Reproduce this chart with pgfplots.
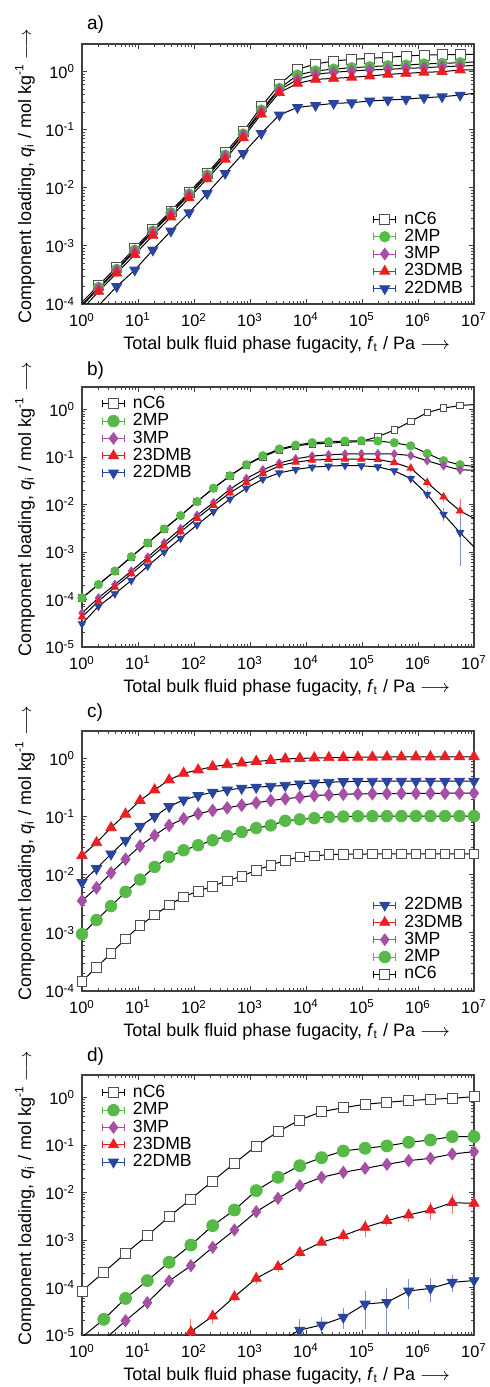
\documentclass[border=0pt]{standalone}
\usepackage{pgfplots}
\pgfplotsset{compat=1.18}
\usepackage{pgfplotstable}
\usepackage{fontspec}
\setmainfont{Liberation Sans}

\definecolor{cg}{RGB}{87,185,71}
\definecolor{cp}{RGB}{165,80,165}
\definecolor{cr}{RGB}{235,30,35}
\definecolor{cb}{RGB}{40,70,160}
\definecolor{ck}{RGB}{80,80,80}

\newcommand{\fs}{\fontsize{8.2}{9.5}\selectfont}
\newcommand{\fl}{\fontsize{9}{10}\selectfont}
\newcommand{\fg}{\fontsize{8.8}{9.5}\selectfont}

% panel a: row 0 and last row are line ends only
\pgfplotstableread{
x n m2 m3 d23 d22
1 1.08e-4 0.98e-4 0.93e-4 0.80e-4 0.47e-4
1.98 2.1e-4 1.94e-4 1.85e-4 1.65e-4 nan
4.17 4.3e-4 3.95e-4 3.8e-4 3.4e-4 2.0e-4
8.77 9.2e-4 8.5e-4 8.1e-4 7.1e-4 3.85e-4
18.4 1.95e-3 1.81e-3 1.72e-3 1.52e-3 8.5e-4
38.7 4.0e-3 3.74e-3 3.56e-3 3.15e-3 1.81e-3
81.5 8.4e-3 7.83e-3 7.5e-3 6.7e-3 3.74e-3
171.4 0.0178 0.0166 0.0158 0.0143 8.0e-3
360.4 0.040 0.0367 0.035 0.031 0.0178
757 0.093 0.0845 0.081 0.073 0.0393
1592 0.25 0.219 0.205 0.187 0.0867
3350 0.605 0.516 0.483 0.435 0.18
7047 1.10 0.877 0.738 0.63 0.243
14825 1.355 1.03 0.90 0.738 0.263
31150 1.53 1.11 0.975 0.768 0.285
65500 1.63 1.17 1.03 0.80 0.292
137700 1.70 1.22 1.07 0.842 0.313
289700 1.77 1.27 1.10 0.90 0.325
609500 1.86 1.30 1.14 0.936 0.338
1280000 1.94 1.36 1.17 0.975 0.356
2690000 1.96 1.39 1.22 1.0 0.371
5660000 1.96 1.43 1.25 1.07 0.396
10000000 2.0 1.47 1.28 1.08 0.424
}\tabA

% panel b: last row is line end only
\pgfplotstableread{
x n m2 m3 d23 d22 e3 e23 e22
1 1.08e-4 1.08e-4 5.2e-5 4.3e-5 3.06e-5 0 0 0
1.966 2.07e-4 2.07e-4 1.08e-4 9.2e-5 7.2e-5 0 0 0
3.864 3.97e-4 3.97e-4 2.07e-4 1.82e-4 1.32e-4 0 0 0
7.595 7.97e-4 7.97e-4 3.97e-4 3.48e-4 2.52e-4 0 0 0
14.93 1.55e-3 1.55e-3 7.8e-4 6.78e-4 5.06e-4 0 0 0
29.35 3.06e-3 3.06e-3 1.57e-3 1.34e-3 1.0e-3 0 0 0
57.68 5.86e-3 5.86e-3 3.11e-3 2.65e-3 1.95e-3 0 0 0
113.4 0.01157 0.01157 5.95e-3 5.14e-3 3.72e-3 0 0 0
222.8 0.0221 0.0221 0.0110 9.68e-3 7.1e-3 0 0 0
438 0.0403 0.0403 0.0211 0.0176 0.0130 0 0 0
861 0.068 0.0689 0.0354 0.0292 0.0221 0 0 0
1692 0.102 0.1067 0.054 0.0452 0.0343 0 0 0
3327 0.14 0.148 0.0747 0.0656 0.0465 0 0 0
6539 0.173 0.179 0.092 0.0784 0.0548 0 0 0
12853 0.188 0.201 0.105 0.0865 0.0615 0 0 0
25264 0.198 0.211 0.112 0.0893 0.0646 0 0 0
49659 0.204 0.218 0.116 0.0908 0.0667 0 0 0
97610 0.214 0.221 0.1175 0.0908 0.0656 0 0 0
191870 0.269 0.218 0.1175 0.0893 0.0625 0 0 0
377140 0.372 0.201 0.116 0.077 0.0514 0 0 0
741310 0.567 0.173 0.108 0.0586 0.0354 0 0.002 0.002
1457000 0.865 0.119 0.084 0.0292 0.0165 0 0.003 0.0015
2864000 1.08 0.084 0.066 0.0145 0.00625 0.002 0.0015 0.0012
5630000 1.22 0.069 0.054 0.00735 0.00256 0.005 0.0042 0.00197
10000000 1.28 0.0635 0.053 0.00514 0.00128 0 0 0
}\tabB

\pgfplotstableread{
x n m2 m3 d23 d22
1 1.47e-4 9.5e-4 3.58e-3 0.0214 7.4e-3
1.817 2.55e-4 1.67e-3 5.98e-3 0.0358 0.0129
3.300 4.48e-4 2.9e-3 0.0108 0.0648 0.0229
5.995 7.9e-4 5.1e-3 0.0186 0.111 0.0393
10.89 1.34e-3 8.3e-3 0.0314 0.1905 0.0683
19.79 2.04e-3 0.0137 0.0479 0.29 0.101
35.94 3.02e-3 0.0204 0.071 0.431 0.150
65.30 4.2e-3 0.0265 0.0924 0.561 0.195
118.6 5.25e-3 0.0323 0.1125 0.64 0.232
215.4 6.4e-3 0.0393 0.1285 0.73 0.265
391.5 7.9e-3 0.0467 0.1426 0.79 0.29
711.0 9.5e-3 0.0546 0.158 0.843 0.31
1292 0.012 0.064 0.174 0.90 0.323
2346 0.0147 0.071 0.19 0.936 0.335
4262 0.0178 0.0853 0.204 0.99 0.348
7743 0.0204 0.090 0.217 1.01 0.368
14068 0.0212 0.0945 0.232 1.03 0.382
25554 0.0223 0.0987 0.239 1.04 0.393
46416 0.0226 0.101 0.245 1.05 0.403
84317 0.0228 0.102 0.248 1.06 0.407
153170 0.0229 0.1023 0.25 1.065 0.409
278260 0.023 0.1025 0.251 1.07 0.41
505460 0.023 0.1026 0.252 1.07 0.41
918200 0.023 0.1027 0.253 1.075 0.41
1668000 0.023 0.1028 0.254 1.075 0.41
3030000 0.023 0.103 0.254 1.08 0.41
5505000 0.023 0.103 0.255 1.08 0.41
10000000 0.023 0.103 0.255 1.08 0.41
}\tabC

% panel d: leading low values of m2, m3, d23, d22 are line-only points
\pgfplotstableread{
x n m2 m3 d23 d22 e23 e22
1 8.45e-5 9e-6 3.2e-6 nan nan 0 0
2.448 2.09e-4 2.14e-5 7.8e-6 nan nan 0 0
5.995 5.26e-4 5.9e-5 2.0e-5 nan nan 0 0
14.68 1.24e-3 1.4e-4 4.8e-5 nan nan 0 0
35.94 3.11e-3 3.4e-4 1.37e-4 5.0e-6 nan 0 0
87.99 7.33e-3 7.87e-4 2.89e-4 1.17e-5 nan 0.7e-5 0
215.4 0.01755 2.01e-3 7.03e-4 2.5e-5 nan 0.5e-5 0
527.5 0.0414 4.3e-3 1.63e-3 6.4e-5 nan 0.8e-5 0
1292 0.0959 0.011 3.96e-3 1.56e-4 nan 2e-5 0
3162 0.192 0.021 7.57e-3 2.75e-4 7e-6 3e-5 0
7743 0.339 0.0369 0.014 5.43e-4 1.27e-5 5e-5 0.6e-5
18957 0.507 0.0544 0.021 8.96e-4 1.63e-5 5e-5 0.5e-5
46416 0.615 0.0752 0.0267 1.24e-3 2.36e-5 1.5e-4 0.8e-5
113650 0.724 0.0857 0.0324 1.85e-3 4.5e-5 5e-4 3e-5
278260 0.798 0.096 0.0394 2.56e-3 4.88e-5 3e-4 3.7e-5
681290 0.865 0.1146 0.0471 3.38e-3 8.45e-5 6e-4 4.5e-5
1668000 0.923 0.128 0.0527 4.3e-3 9.6e-5 1.3e-3 4e-5
4084000 0.968 0.151 0.065 6.13e-3 1.29e-4 2e-3 3.5e-5
10000000 1.05 0.151 0.0728 5.94e-3 1.4e-4 1.8e-3 6e-5
}\tabD

\pgfplotsset{
  errleg/.style 2 args={legend image code/.code={%
     \draw[#1, line width=0.5pt] (0pt,0pt) -- (11pt,0pt) (0pt,-1.8pt) -- (0pt,1.8pt) (11pt,-1.8pt) -- (11pt,1.8pt);
     \draw[##1, mark size=#2] plot coordinates {(5.5pt,0pt)};}},
  ln/.style={black, line width=0.5pt, mark=none, forget plot},
  eb/.style={error bars/y dir=both, error bars/y explicit,
     error bars/error bar style={#1, line width=0.4pt},
     error bars/error mark options={#1, mark size=1.4pt, line width=0.4pt}},
  panel/.style={
    scale only axis, width=196pt, height=130pt, anchor=south west,
    xmin=1, xmax=1e7,
    xtick={1,10,100,1000,10000,100000,1000000,10000000},
    xticklabels={10\textsuperscript{0},10\textsuperscript{1},10\textsuperscript{2},10\textsuperscript{3},10\textsuperscript{4},10\textsuperscript{5},10\textsuperscript{6},10\textsuperscript{7}},
    tick label style={font=\fs},
    xticklabel style={yshift=-1pt},
    label style={font=\fl},
    major tick length=2.5pt, minor tick length=1.5pt,
    axis line style={black!75, line width=0.6pt},
    tick style={black!75, line width=0.5pt},
    xlabel={Total bulk fluid phase fugacity, \textit{f}\textsubscript{t} / Pa $\longrightarrow$},
    ylabel={Component loading, \textit{q}\textsubscript{i} / mol kg\textsuperscript{-1} $\longrightarrow$},
    xlabel style={at={(axis description cs:0.522,-0.158)}, anchor=center},
    legend cell align=left,
    legend style={draw=none, fill=none, font=\fg, inner sep=0pt,
       nodes={inner sep=0.5pt}, row sep=0pt,
       /tikz/every odd column/.append style={column sep=3.5pt}},
  },
}

\begin{document}
\begin{tikzpicture}
\useasboundingbox (0,0) rectangle (244.5pt,693.5pt);

% ---------------- a ----------------
\begin{loglogaxis}[panel, at={(41pt,541.5pt)}, ymin=1e-4, ymax=3,
  ytick={1e-4,1e-3,1e-2,1e-1,1},
  yticklabels={10\textsuperscript{-4},10\textsuperscript{-3},10\textsuperscript{-2},10\textsuperscript{-1},10\textsuperscript{0}},
  ylabel style={at={(axis description cs:-0.1454,0.49)}, anchor=center},
  legend style={at={(0.742,0.36)}, anchor=north west}]
\addplot[ln] table[x=x,y=n]{\tabA};
\addplot[ln] table[x=x,y=m2]{\tabA};
\addplot[ln] table[x=x,y=m3]{\tabA};
\addplot[ln] table[x=x,y=d23]{\tabA};
\addplot[ln] table[x=x,y=d22]{\tabA};
\addplot[only marks, mark=square*, draw=ck, fill=white, mark size=2.5pt, skip coords between index={0}{1}, skip coords between index={22}{23}, errleg={black}{2.5pt}] table[x=x,y=n]{\tabA};
\addlegendentry{nC6}
\addplot[only marks, mark=*, color=cg, mark size=2.6pt, skip coords between index={0}{1}, skip coords between index={22}{23}, errleg={cg}{2.6pt}] table[x=x,y=m2]{\tabA};
\addlegendentry{2MP}
\addplot[only marks, mark=diamond*, color=cp, mark size=2.9pt, skip coords between index={0}{1}, skip coords between index={22}{23}, errleg={cp}{2.9pt}] table[x=x,y=m3]{\tabA};
\addlegendentry{3MP}
\addplot[only marks, mark=triangle*, color=cr, mark size=2.9pt, skip coords between index={0}{1}, skip coords between index={22}{23}, errleg={cr}{2.9pt}] table[x=x,y=d23]{\tabA};
\addlegendentry{23DMB}
\addplot[only marks, mark=triangle*, mark options={rotate=180}, color=cb, mark size=2.9pt, skip coords between index={0}{1}, skip coords between index={22}{23}, errleg={cb}{2.9pt}] table[x=x,y=d22]{\tabA};
\addlegendentry{22DMB}
\end{loglogaxis}
\node[font=\fontsize{9.5}{11}\selectfont, anchor=west] at (40pt,681pt) {a)};

% ---------------- b ----------------
\begin{loglogaxis}[panel, at={(41pt,370pt)}, ymin=1e-5, ymax=3,
  ytick={1e-5,1e-4,1e-3,1e-2,1e-1,1},
  yticklabels={10\textsuperscript{-5},10\textsuperscript{-4},10\textsuperscript{-3},10\textsuperscript{-2},10\textsuperscript{-1},10\textsuperscript{0}},
  ylabel style={at={(axis description cs:-0.1454,0.53)}, anchor=center},
  legend style={at={(0.05,0.97)}, anchor=north west}]
\addplot[ln] table[x=x,y=n]{\tabB};
\addplot[ln] table[x=x,y=m2]{\tabB};
\addplot[ln] table[x=x,y=m3]{\tabB};
\addplot[ln] table[x=x,y=d23]{\tabB};
\addplot[ln] table[x=x,y=d22]{\tabB};
\addplot[only marks, mark=square*, draw=ck, fill=white, mark size=1.6pt, skip coords between index={24}{25}, errleg={black}{2.5pt}] table[x=x,y=n]{\tabB};
\addlegendentry{nC6}
\addplot[only marks, mark=*, color=cg, mark size=2.1pt, skip coords between index={24}{25}, errleg={cg}{2.9pt}] table[x=x,y=m2]{\tabB};
\addlegendentry{2MP}
\addplot[only marks, mark=diamond*, color=cp, mark size=2.1pt, skip coords between index={24}{25}, eb=cp!60, errleg={cp}{2.9pt}] table[x=x,y=m3,y error=e3]{\tabB};
\addlegendentry{3MP}
\addplot[only marks, mark=triangle*, color=cr, mark size=2.1pt, skip coords between index={24}{25}, eb=cr!60, errleg={cr}{2.9pt}] table[x=x,y=d23,y error=e23]{\tabB};
\addlegendentry{23DMB}
\addplot[only marks, mark=triangle*, mark options={rotate=180}, color=cb, mark size=2.1pt, skip coords between index={24}{25}, eb=cb!60, errleg={cb}{2.9pt}] table[x=x,y=d22,y error=e22]{\tabB};
\addlegendentry{22DMB}
\end{loglogaxis}
\node[font=\fontsize{9.5}{11}\selectfont, anchor=west] at (40pt,508pt) {b)};

% ---------------- c ----------------
\begin{loglogaxis}[panel, at={(41pt,198pt)}, ymin=1e-4, ymax=3,
  ytick={1e-4,1e-3,1e-2,1e-1,1},
  yticklabels={10\textsuperscript{-4},10\textsuperscript{-3},10\textsuperscript{-2},10\textsuperscript{-1},10\textsuperscript{0}},
  ylabel style={at={(axis description cs:-0.1454,0.53)}, anchor=center},
  reverse legend,
  legend style={at={(0.742,0.365)}, anchor=north west}]
\addplot[ln] table[x=x,y=n]{\tabC};
\addplot[ln] table[x=x,y=m2]{\tabC};
\addplot[ln] table[x=x,y=m3]{\tabC};
\addplot[ln] table[x=x,y=d23]{\tabC};
\addplot[ln] table[x=x,y=d22]{\tabC};
\addplot[only marks, mark=square*, draw=ck, fill=white, mark size=2.4pt, errleg={black}{2.5pt}] table[x=x,y=n]{\tabC};
\addlegendentry{nC6}
\addplot[only marks, mark=*, color=cg, mark size=2.9pt, errleg={cg}{2.9pt}] table[x=x,y=m2]{\tabC};
\addlegendentry{2MP}
\addplot[only marks, mark=diamond*, color=cp, mark size=3.1pt, errleg={cp}{2.9pt}] table[x=x,y=m3]{\tabC};
\addlegendentry{3MP}
\addplot[only marks, mark=triangle*, color=cr, mark size=3pt, errleg={cr}{2.9pt}] table[x=x,y=d23]{\tabC};
\addlegendentry{23DMB}
\addplot[only marks, mark=triangle*, mark options={rotate=180}, color=cb, mark size=3pt, errleg={cb}{2.9pt}] table[x=x,y=d22]{\tabC};
\addlegendentry{22DMB}
\end{loglogaxis}
\node[font=\fontsize{9.5}{11}\selectfont, anchor=west] at (40pt,337pt) {c)};

% ---------------- d ----------------
\begin{loglogaxis}[panel, at={(41pt,26pt)}, ymin=1e-5, ymax=3,
  ytick={1e-5,1e-4,1e-3,1e-2,1e-1,1},
  yticklabels={10\textsuperscript{-5},10\textsuperscript{-4},10\textsuperscript{-3},10\textsuperscript{-2},10\textsuperscript{-1},10\textsuperscript{0}},
  ylabel style={at={(axis description cs:-0.1454,0.525)}, anchor=center},
  legend style={at={(0.05,0.966)}, anchor=north west}]
\addplot[ln] table[x=x,y=n]{\tabD};
\addplot[ln] table[x=x,y=m2]{\tabD};
\addplot[ln] table[x=x,y=m3]{\tabD};
\addplot[ln] table[x=x,y=d23]{\tabD};
\addplot[ln] table[x=x,y=d22]{\tabD};
\addplot[only marks, mark=square*, draw=ck, fill=white, mark size=2.5pt, errleg={black}{2.5pt}] table[x=x,y=n]{\tabD};
\addlegendentry{nC6}
\addplot[only marks, mark=*, color=cg, mark size=3pt, skip coords between index={0}{1}, errleg={cg}{2.9pt}] table[x=x,y=m2]{\tabD};
\addlegendentry{2MP}
\addplot[only marks, mark=diamond*, color=cp, mark size=3pt, skip coords between index={0}{2}, errleg={cp}{2.9pt}] table[x=x,y=m3]{\tabD};
\addlegendentry{3MP}
\addplot[only marks, mark=triangle*, color=cr, mark size=2.9pt, skip coords between index={0}{5}, eb=cr!60, errleg={cr}{2.9pt}] table[x=x,y=d23,y error=e23]{\tabD};
\addlegendentry{23DMB}
\addplot[only marks, mark=triangle*, mark options={rotate=180}, color=cb, mark size=2.9pt, skip coords between index={0}{10}, eb=cb!60, errleg={cb}{2.9pt}] table[x=x,y=d22,y error=e22]{\tabD};
\addlegendentry{22DMB}
\end{loglogaxis}
\node[font=\fontsize{9.5}{11}\selectfont, anchor=west] at (40pt,165pt) {d)};
\end{tikzpicture}
\end{document}
